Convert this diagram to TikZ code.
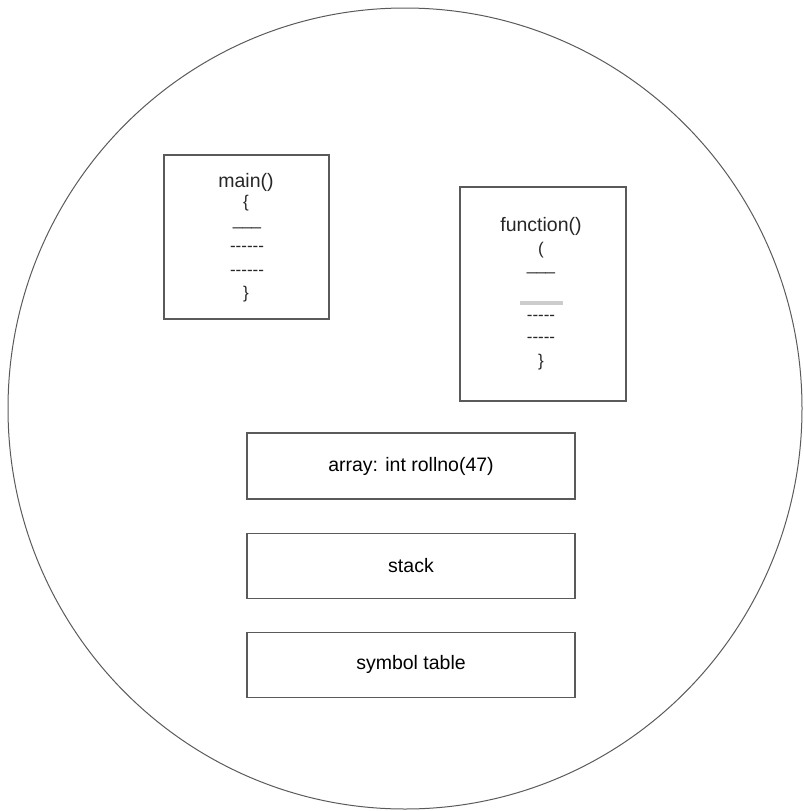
\documentclass[tikz,border=0pt]{standalone}
\usepackage{fontspec}
\setmainfont{Liberation Sans}
\usetikzlibrary{positioning}
\definecolor{edgegray}{RGB}{90,90,90}

\begin{document}
\begin{tikzpicture}[
  x=1pt, y=-1pt,
  every node/.style={font=\fontsize{19.5}{22}\selectfont, inner sep=0pt},
  codebox/.style={draw=edgegray, line width=1.1pt},
  segbox/.style={
    draw=edgegray, line width=1.1pt,
    minimum width=328pt, minimum height=65pt
  },
  codeline/.style={text=black!85, font=\fontsize{17}{19}\selectfont},
  underline/.style={codeline, anchor=base, text height=0pt, text depth=3pt}
]
  \useasboundingbox (0,0) rectangle (803,811);

  % Grenze des Programms
  \draw[edgegray, line width=1pt] (405,408.5) ellipse [x radius=397, y radius=400.5];

  % Kasten main()
  \node[codebox, minimum width=165pt, minimum height=164pt] (mainbox) at (246.5,237) {};
  \node[text=black!85] (mainhead) at (246,182) {main()};
  \node[codeline] (mainopen) at (246,203) {\{};
  \node[underline] (mainla) at (247,225.5) {\_\_\_};
  \node[codeline] (mainlb) at (247,249) {{-}{-}{-}{-}{-}{-}};
  \node[codeline] (mainlc) at (247,273) {{-}{-}{-}{-}{-}{-}};
  \node[codeline] (mainclose) at (246,294) {\}};

  % Kasten function()
  \node[codebox, minimum width=166pt, minimum height=214pt] (funcbox) at (543,294) {};
  \node[text=black!85] (funchead) at (541,226) {function()};
  \node[codeline] (funcopen) at (541,250) {(};
  \node[underline] (funcla) at (541,270.5) {\_\_\_};
  \node[fill=gray!40, minimum width=43pt, minimum height=4pt] (funcbar) at (541.5,303) {};
  \node[codeline] (funclb) at (541,318) {{-}{-}{-}{-}{-}};
  \node[codeline] (funclc) at (541,340) {{-}{-}{-}{-}{-}};
  \node[codeline] (funcclose) at (541,362) {\}};

  % Speicherbereiche
  \node[segbox, minimum height=66pt] (arr) at (411,466) {array: int rollno(47)};
  \node[segbox, below=33pt of arr] (stk) {stack};
  \node[segbox, below=33pt of stk] (symtab) {symbol table};

\end{tikzpicture}
\end{document}
